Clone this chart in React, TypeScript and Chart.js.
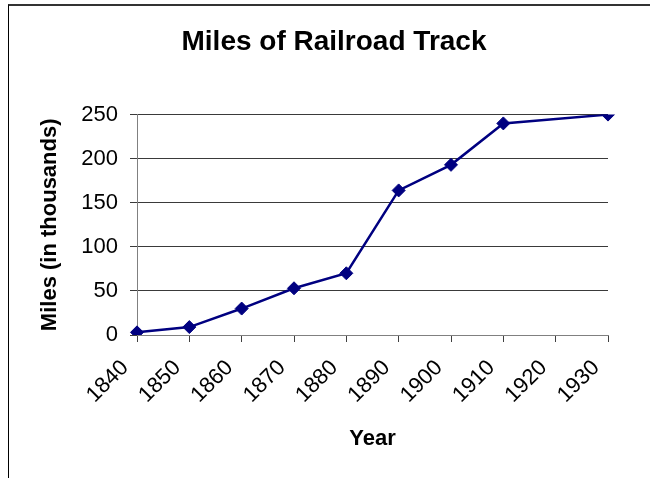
import React, { useEffect, useRef } from "react";
import { Chart, registerables } from "chart.js";

Chart.register(...registerables);

const years = ["1840", "1850", "1860", "1870", "1880", "1890", "1900", "1910", "1920", "1930"];
const miles = [3, 9, 30, 53, 70, 164, 193, 240, null, 250];
const yTicks = [0, 50, 100, 150, 200, 250];

const FONT = "'Liberation Sans', Arial, sans-serif";

export default function App() {
  const ref = useRef<HTMLCanvasElement | null>(null);

  useEffect(() => {
    if (!ref.current) return;
    const chart = new Chart(ref.current, {
      type: "line",
      data: {
        labels: years,
        datasets: [
          {
            data: miles,
            borderColor: "#000080",
            backgroundColor: "#000080",
            borderWidth: 2.5,
            pointStyle: "rectRot",
            pointRadius: 6.5,
            pointBorderWidth: 1,
            pointBackgroundColor: "#000080",
            pointBorderColor: "#000080",
            spanGaps: true,
            tension: 0,
            yAxisID: "y",
          },
        ],
      },
      options: {
        animation: false,
        responsive: false,
        maintainAspectRatio: false,
        layout: { padding: { top: 0, left: 0, right: 0, bottom: 0 } },
        plugins: {
          legend: { display: false },
          tooltip: { enabled: false },
          title: {
            display: true,
            text: "Miles of Railroad Track",
            color: "#000",
            font: { family: FONT, size: 28, weight: "bold", lineHeight: 1.2 },
            padding: { top: 25, bottom: 56 },
          },
        },
        scales: {
          x: {
            type: "category",
            offset: false,
            afterFit: (s: any) => {
              s.height = 143;
              s.paddingLeft = 0;
              s.paddingRight = 0;
            },
            grid: {
              display: true,
              drawOnChartArea: false,
              drawTicks: true,
              tickLength: 7,
              color: "#404040",
            },
            border: { display: true, color: "#808080", width: 1 },
            ticks: {
              autoSkip: false,
              minRotation: 45,
              maxRotation: 45,
              color: "#000",
              padding: 13,
              labelOffset: -12,
              font: { family: FONT, size: 22 },
            },
            title: {
              display: true,
              text: "Year",
              color: "#000",
              font: { family: FONT, size: 22, weight: "bold", lineHeight: 1.2 },
              padding: { top: 0, bottom: 26 },
            },
          },
          y: {
            min: 0,
            max: 250,
            position: "left",
            afterFit: (s: any) => {
              s.width = 119;
            },
            afterBuildTicks: (s: any) => {
              s.ticks = yTicks.map((v) => ({ value: v }));
            },
            grid: {
              display: true,
              drawOnChartArea: true,
              drawTicks: true,
              tickLength: 7,
              color: "#3a3a3a",
            },
            border: { display: true, color: "#808080", width: 1 },
            ticks: {
              color: "#000",
              padding: 12,
              font: { family: FONT, size: 22 },
            },
            title: {
              display: true,
              text: "Miles (in thousands)",
              color: "#000",
              font: { family: FONT, size: 22, weight: "bold", lineHeight: 1.2 },
              padding: { top: 19, bottom: 0 },
            },
          },
          y2: {
            position: "right",
            min: 0,
            max: 1,
            afterFit: (s: any) => {
              s.width = 42;
            },
            grid: { display: false, drawTicks: false },
            border: { display: false },
            ticks: { display: false },
            title: { display: false },
          },
        },
      },
    });
    return () => chart.destroy();
  }, []);

  return (
    <div
      style={{
        position: "fixed",
        left: 0,
        top: 0,
        width: 650,
        height: 478,
        overflow: "hidden",
        background: "#fff",
      }}
    >
      <div
        style={{
          position: "absolute",
          left: 8,
          top: 4,
          width: 700,
          height: 500,
          borderLeft: "1px solid #000",
          borderTop: "2px solid #333",
        }}
      />
      <canvas
        ref={ref}
        width={632}
        height={478}
        style={{ position: "absolute", left: 18, top: 0, width: 632, height: 478 }}
      />
    </div>
  );
}
